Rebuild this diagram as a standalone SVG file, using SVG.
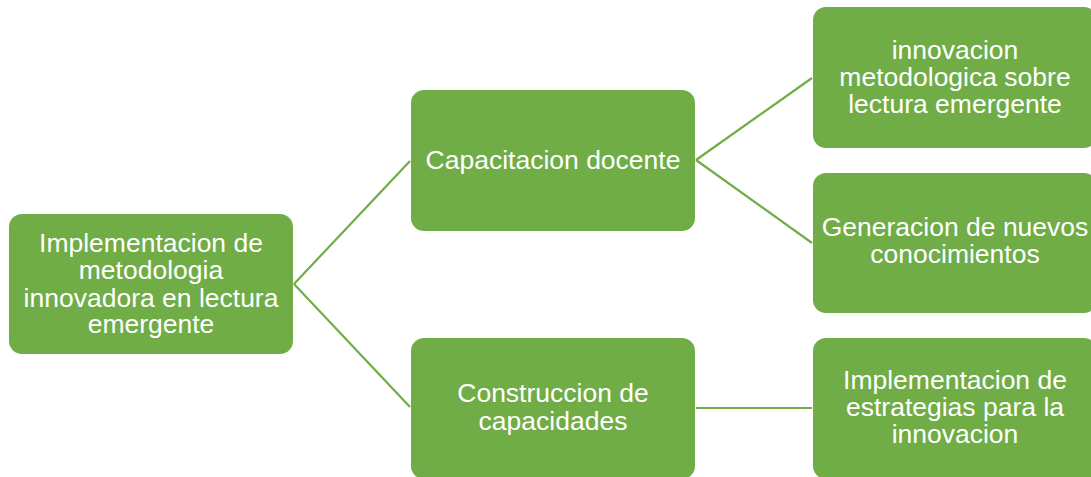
<svg xmlns="http://www.w3.org/2000/svg" width="1091" height="477" viewBox="0 0 1091 477">
<style>
.box{fill:#70AD47;}
.t{font-family:"Liberation Sans",Arial,sans-serif;font-size:26.5px;fill:#FFFFFF;text-anchor:middle;}
.c{stroke:#70AD47;stroke-width:2.2;fill:none;}
</style>
<rect width="1091" height="477" fill="#FFFFFF"/>
<g id="connectors">
<path class="c" d="M294,284 L410,161"/>
<path class="c" d="M294,284 L410,407"/>
<path class="c" d="M696,160 L812,78"/>
<path class="c" d="M696,160 L812,243"/>
<path class="c" d="M696,408 L812,408"/>
</g>
<g id="root">
<rect class="box" x="9" y="214" width="284" height="140" rx="13"/>
<text class="t" x="151" y="252">Implementacion de</text>
<text class="t" x="151" y="279">metodologia</text>
<text class="t" x="151" y="306.5">innovadora en lectura</text>
<text class="t" x="151" y="333">emergente</text>
</g>
<g id="capacitacion">
<rect class="box" x="411" y="90" width="284" height="141" rx="13"/>
<text class="t" x="553" y="169">Capacitacion docente</text>
</g>
<g id="construccion">
<rect class="box" x="411" y="338" width="284" height="141" rx="13"/>
<text class="t" x="553" y="402">Construccion de</text>
<text class="t" x="553" y="430">capacidades</text>
</g>
<g id="innovacion">
<rect class="box" x="813" y="7" width="284" height="141" rx="13"/>
<text class="t" x="955" y="59">innovacion</text>
<text class="t" x="955" y="86">metodologica sobre</text>
<text class="t" x="955" y="113">lectura emergente</text>
</g>
<g id="generacion">
<rect class="box" x="813" y="173" width="284" height="140" rx="13"/>
<text class="t" x="955" y="236">Generacion de nuevos</text>
<text class="t" x="955" y="263">conocimientos</text>
</g>
<g id="estrategias">
<rect class="box" x="813" y="338" width="284" height="141" rx="13"/>
<text class="t" x="955" y="389">Implementacion de</text>
<text class="t" x="955" y="416">estrategias para la</text>
<text class="t" x="955" y="443">innovacion</text>
</g>
</svg>
